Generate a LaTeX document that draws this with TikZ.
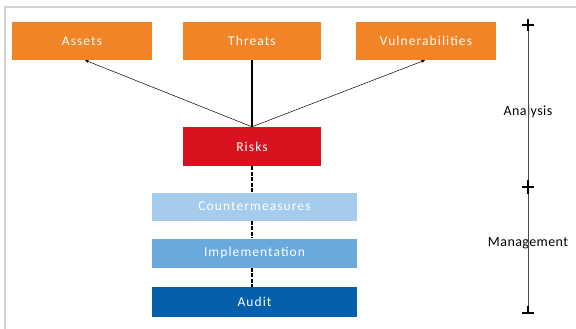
\documentclass[tikz,border=0pt]{standalone}
\usepackage{fontspec}
\setmainfont{Carlito}
\newfontfamily\boxfont[LetterSpace=8]{Carlito}
\newfontfamily\lblfont[LetterSpace=3]{Carlito}
\usetikzlibrary{arrows.meta}
\definecolor{orng}{HTML}{F18426}
\definecolor{rsk}{HTML}{D8131F}
\definecolor{lblue}{HTML}{A5CCEC}
\definecolor{mblue}{HTML}{6AA9DD}
\definecolor{dblue}{HTML}{055FAA}
\definecolor{frame}{HTML}{D4D4D4}
\begin{document}
\begin{tikzpicture}[x=1pt,y=-1pt,
  box/.style={draw=none,inner sep=0pt,text=white,font=\boxfont\fontsize{13.5}{15}\selectfont},
  conn/.style={draw=black,line width=0.5pt},
  thick conn/.style={draw=black,line width=2pt},
  axis/.style={line width=1pt,draw=gray!60!black},
  tick/.style={line width=1.5pt,draw=black},
  lbl/.style={font=\lblfont\fontsize{14}{16}\selectfont,text=black,inner sep=0pt}]
\useasboundingbox (0,0) rectangle (576,329);
\draw[frame,line width=1.5pt] (5,329) -- (5,7) -- (576,7);
% boxes
\node[box,fill=orng,minimum width=140,minimum height=38] (assets) at (82,41) {Assets};
\node[box,fill=orng,minimum width=138,minimum height=38] (threats) at (252,41) {Threats};
\node[box,fill=orng,minimum width=140,minimum height=38] (vuln) at (426,41) {Vulnerabilities};
\node[box,fill=rsk,minimum width=138,minimum height=39] (risks) at (252,146.5) {Risks};
\node[box,fill=lblue,minimum width=205,minimum height=28] (cm) at (254.5,206.5) {Countermeasures};
\node[box,fill=mblue,minimum width=205,minimum height=29] (impl) at (254.5,253) {Implementation};
\node[box,fill=dblue,minimum width=205,minimum height=30] (audit) at (254.5,302) {Audit};
% connectors
\draw[conn,-{Stealth[length=4pt,width=3pt]}] (risks.north) -- ([xshift=3]assets.south);
\draw[conn,-{Stealth[length=4pt,width=3pt]}] (risks.north) -- ([xshift=-1]vuln.south);
\draw[thick conn] (threats.south) -- (risks.north);
\draw[thick conn,dash pattern=on 4pt off 1.5pt] (risks.south) -- (risks.south |- cm.north);
\draw[thick conn,dash pattern=on 4pt off 1.5pt] (risks.south |- cm.south) -- (risks.south |- impl.north);
\draw[thick conn,dash pattern=on 4pt off 1.5pt] (risks.south |- impl.south) -- (risks.south |- audit.north);
% axis
\coordinate (atop) at (528,19);
\coordinate (amid) at (528,187);
\coordinate (abot) at (528,313);
\node[lbl] (analysis) at (528,112) {Analysis};
\node[lbl] (mgmt) at (528,243) {Management};
\draw[axis] (atop) -- ([yshift=-6]analysis.north);
\draw[axis] ([yshift=6]analysis.south) -- ([yshift=-6]mgmt.north);
\draw[axis] ([yshift=6]mgmt.south) -- (abot);
\draw[tick] (522,25) -- (534,25);
\draw[tick] (528,19) -- (528,31);
\draw[tick] (522,187) -- (534,187);
\draw[tick] (528,180) -- (528,194);
\draw[tick] (522,313) -- (534,313);
\draw[tick] (528,306) -- (528,313);
\end{tikzpicture}
\end{document}
